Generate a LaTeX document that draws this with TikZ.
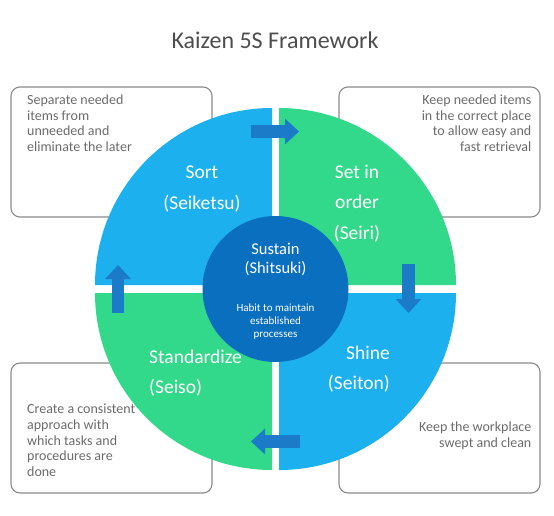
\documentclass[tikz,border=0pt]{standalone}
\usepackage{fontspec}
\setmainfont{Carlito}
\usetikzlibrary{arrows.meta,positioning}

\definecolor{sortblue}{HTML}{1CB0EF}
\definecolor{ordergreen}{HTML}{33D98A}
\definecolor{sustainblue}{HTML}{0B6FBF}
\definecolor{flowblue}{HTML}{1B7BC9}
\definecolor{boxgray}{HTML}{8A8A8A}
\definecolor{notegray}{HTML}{6B6B6B}
\definecolor{titlegray}{HTML}{4D4D4D}

\begin{document}
\begin{tikzpicture} [
        x=1pt, y=1pt,
        infobox/.style={draw=boxgray, line width=1.1pt, rounded corners=9pt,
            minimum width=201pt, minimum height=130pt, inner sep=0pt},
        notetext/.style={text=notegray, font=\fontsize{14}{15.7}\selectfont, inner sep=0pt},
        qlabel/.style={text=white, font=\fontsize{19.5}{30.5}\selectfont, inner sep=0pt},
        flow/.style={draw=flowblue, line width=12.5pt, -{Triangle[width=25pt,length=14pt]}},
    ]
    \useasboundingbox (0,0) rectangle (554,515);

    \node[text=titlegray, font=\fontsize{24}{28}\selectfont, anchor=base] (title) at (275,466)
        {Kaizen 5S Framework};

    % note boxes behind the wheel
    \foreach \pos/\name in {
            {(111.5,363)/sortbox}, {(439.5,363)/orderbox},
            {(111.5,87)/standardbox}, {(439.5,87)/shinebox}}
        \node[infobox] (\name) at \pos {};

    \node[notetext, align=left, anchor=base west] (sortnote)
        at ([xshift=16.5pt,yshift=-65pt]sortbox.north west)
        {Separate needed\\items from\\unneeded and\\eliminate the later};
    \node[notetext, align=right, anchor=base east] (ordernote)
        at ([xshift=-9pt,yshift=-65pt]orderbox.north east)
        {Keep needed items\\in the correct place\\to allow easy and\\fast retrieval};
    \node[notetext, align=left, anchor=base west] (standardnote)
        at ([xshift=16.5pt,yshift=-114pt]standardbox.north west)
        {Create a consistent\\approach with\\which tasks and\\procedures are\\done};
    \node[notetext, align=right, anchor=base east] (shinenote)
        at ([xshift=-9pt,yshift=-85pt]shinebox.north east)
        {Keep the workplace\\swept and clean};

    % the four quarters
    \foreach \cx/\cy/\start/\col in {
            272/230/180/sortblue, 279/230/90/ordergreen,
            279/222/0/sortblue, 272/222/270/ordergreen}
        \fill[\col] (\cx,\cy) -- ++(\start:177pt) arc (\start:\start-90:177pt) -- cycle;

    % flow arrows
    \coordinate (sorttail) at (251,383.5);
    \coordinate (orderhead) at (299,383.5);
    \coordinate (ordertail) at (408.5,251);
    \coordinate (shinehead) at (408.5,202);
    \coordinate (shinetail) at (300,73.5);
    \coordinate (standardhead) at (251,73.5);
    \coordinate (standardtail) at (118,202);
    \coordinate (sorthead) at (118,250);
    \foreach \source/ \dest in {
            sorttail/orderhead, ordertail/shinehead,
            shinetail/standardhead, standardtail/sorthead}
        \draw[flow] (\source) -- (\dest);

    % hub
    \node[circle, fill=sustainblue, minimum size=146pt, inner sep=0pt] (sustain) at (275.5,226) {};
    \node[text=white, font=\fontsize{16.5}{19}\selectfont, align=center, anchor=base, inner sep=0pt]
        (sustainname) at (275.5,242) {Sustain\\(Shitsuki)};
    \node[text=white, font=\fontsize{11}{13.2}\selectfont, align=center, anchor=base, inner sep=0pt]
        (sustainnote) at (275.5,177.6) {Habit to maintain\\established\\processes};

    \node[qlabel, align=center, anchor=base] (sort) at (202,305.5) {Sort\\(Seiketsu)};
    \node[qlabel, align=center, anchor=base] (setorder) at (357,276) {Set in\\order\\(Seiri)};
    \node[qlabel, align=left, anchor=base west] (standardize) at (149,121.5) {Standardize\\(Seiso)};
    \node[qlabel, align=right, anchor=base east] (shine) at (390,125.5) {Shine\\(Seiton)};
\end{tikzpicture}
\end{document}
